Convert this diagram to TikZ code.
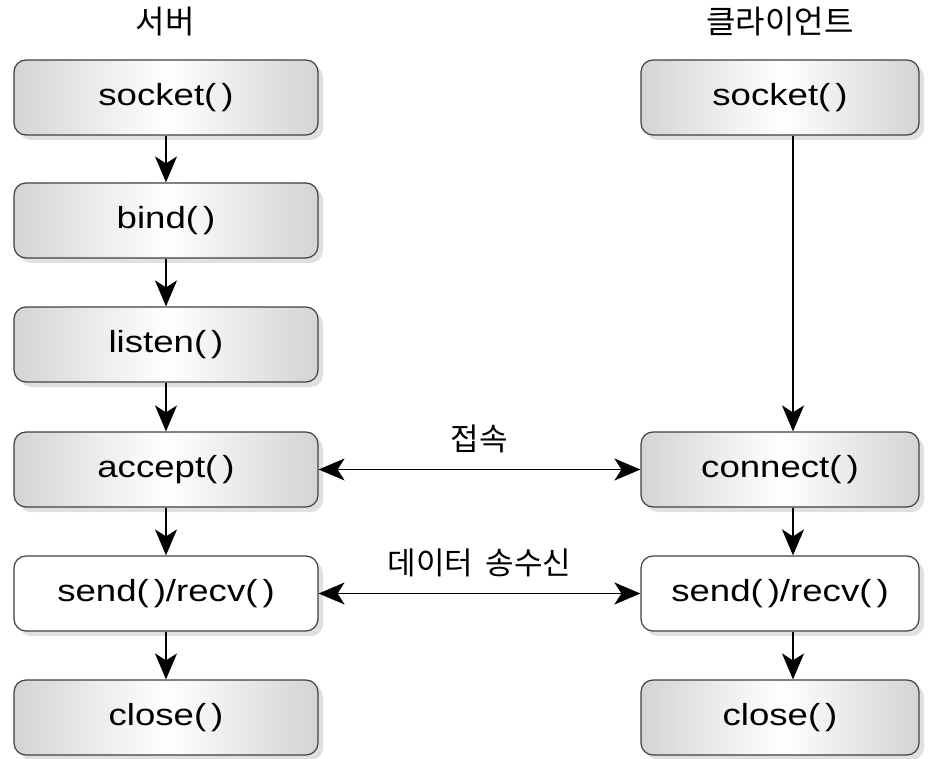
\documentclass[tikz,border=0pt]{standalone}
\usepackage{fontspec}
\setmainfont[FakeStretch=1.2]{Liberation Sans}
\newfontfamily\kr{Noto Sans CJK KR}
\usetikzlibrary{shadows,arrows.meta}
\newcommand{\pp}{(\hspace{5pt})}
\begin{document}
\begin{tikzpicture}[x=1pt,y=-1pt,
  box/.style={draw=black!75, line width=1.2pt, rounded corners=12pt, minimum width=304pt, minimum height=75pt,
    left color=black!17, right color=black!17, middle color=white,
    drop shadow={shadow xshift=5pt, shadow yshift=-5pt, fill=black!12, opacity=1},
    font=\fontsize{30.5}{30}\selectfont, inner sep=0pt},
  rbox/.style={box, minimum width=278pt},
  wbox/.style={draw=black!75, line width=1.2pt, rounded corners=12pt, minimum width=304pt, minimum height=75pt,
    fill=white, drop shadow={shadow xshift=5pt, shadow yshift=-5pt, fill=black!12, opacity=1},
    font=\fontsize{30.5}{30}\selectfont, inner sep=0pt},
  arr/.style={line width=1.6pt, -{Stealth[length=26pt,width=22pt,inset=7pt]}},
  darr/.style={line width=1.6pt, {Stealth[length=26pt,width=22pt,inset=7pt]}-{Stealth[length=26pt,width=22pt,inset=7pt]}},
  ttl/.style={font=\kr\fontsize{32}{32}\selectfont},
  lbl/.style={font=\kr\fontsize{31}{31}\selectfont}
]
\useasboundingbox (0,0) rectangle (934,759);
\node[ttl] (st) at (165,22) {서버};
\node[ttl] (ct) at (780,22) {클라이언트};
\node[box] (s1) at (166,97.5) {socket\pp};
\node[box] (s2) at (166,220.5) {bind\pp};
\node[box] (s3) at (166,344.5) {listen\pp};
\node[box] (s4) at (166,469.5) {accept\pp};
\node[wbox] (s5) at (166,593.5) {send\pp/recv\pp};
\node[box] (s6) at (166,717.5) {close\pp};
\node[rbox] (c1) at (780,97.5) {socket\pp};
\node[rbox] (c4) at (780,469.5) {connect\pp};
\node[wbox, minimum width=278pt] (c5) at (780,593.5) {send\pp/recv\pp};
\node[rbox] (c6) at (780,717.5) {close\pp};
\draw[arr] (s1) -- (s2);
\draw[arr] (s2) -- (s3);
\draw[arr] (s3) -- (s4);
\draw[arr] (s4) -- (s5);
\draw[arr] (s5) -- (s6);
\draw[arr] (c1.south -| 793,0) -- (c4.north -| 793,0);
\draw[arr] (c4.south -| 793,0) -- (c5.north -| 793,0);
\draw[arr] (c5.south -| 793,0) -- (c6.north -| 793,0);
\draw[darr] (s4) -- node[above=12pt, lbl] {접속} (c4);
\draw[darr] (s5) -- node[above=12pt, lbl] {데이터\hspace{12pt}송수신} (c5);
\end{tikzpicture}
\end{document}
